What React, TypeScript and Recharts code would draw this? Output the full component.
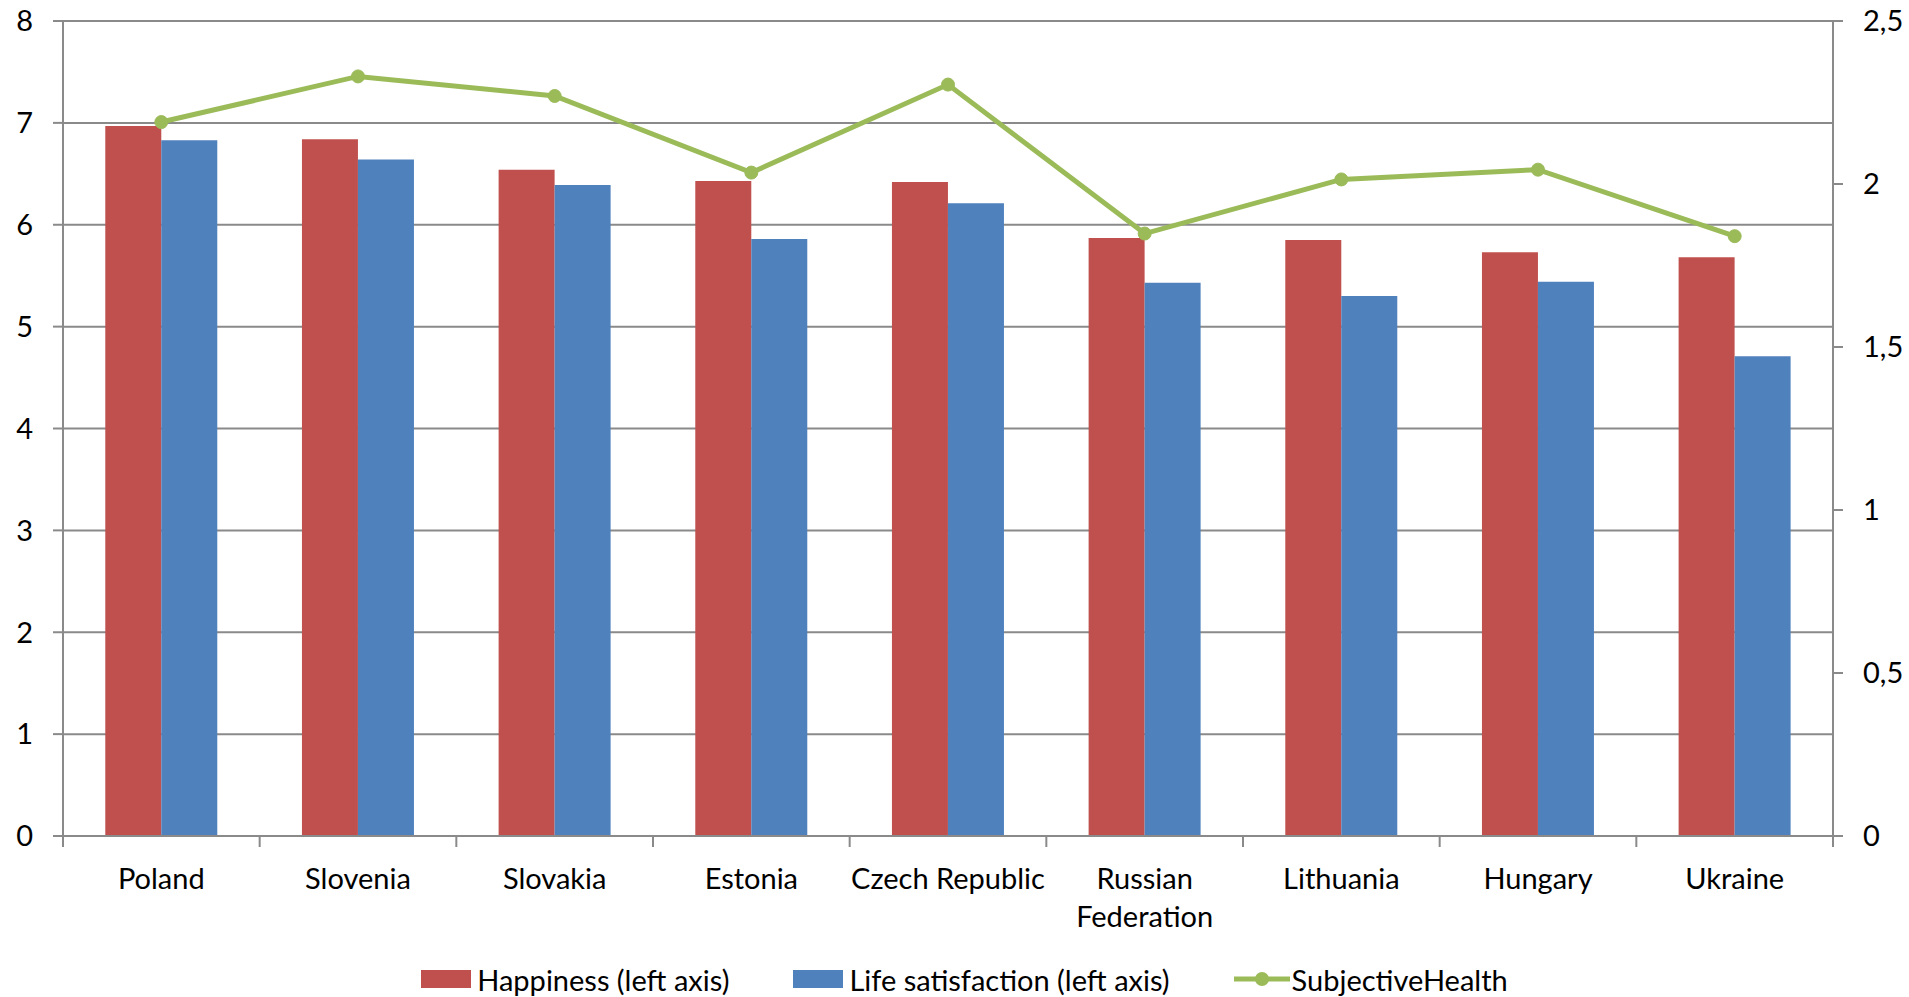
import React from 'react';
import { ComposedChart, Bar, Line, XAxis, YAxis, CartesianGrid, Legend } from 'recharts';

const countries = [
  'Poland', 'Slovenia', 'Slovakia', 'Estonia', 'Czech Republic',
  'Russian Federation', 'Lithuania', 'Hungary', 'Ukraine',
];
const happiness = [6.97, 6.84, 6.54, 6.43, 6.42, 5.87, 5.85, 5.73, 5.68];
const lifeSatisfaction = [6.83, 6.64, 6.39, 5.86, 6.21, 5.43, 5.3, 5.44, 4.71];
const subjectiveHealth = [2.19, 2.33, 2.27, 2.035, 2.305, 1.848, 2.014, 2.044, 1.84];

const leftTicks = [0, 1, 2, 3, 4, 5, 6, 7, 8];
const rightTicks = [0, 0.5, 1, 1.5, 2, 2.5];

const data = countries.map((name, i) => ({
  name,
  happiness: happiness[i],
  life: lifeSatisfaction[i],
  health: subjectiveHealth[i],
}));

const RED = '#C0504D';
const BLUE = '#4F81BD';
const GREEN = '#9BBB59';
const AXIS = '#8a8a8a';
const FONT = 29;

const W = 1909;
const H = 997;
const BAND = (1833 - 63) / countries.length;

// long names go onto two lines
const splitLabel = (s: string) => {
  if (s.length <= 15) return [s];
  const i = s.indexOf(' ');
  return i < 0 ? [s] : [s.slice(0, i), s.slice(i + 1)];
};

const CategoryTick = (props: any) => {
  const { x, y, payload, index, visibleTicksCount } = props;
  const half = payload && payload.offset ? payload.offset : BAND / 2;
  const lines = splitLabel(String(payload.value));
  const last = index === (visibleTicksCount ?? countries.length) - 1;
  return (
    <g>
      <line x1={x - half} x2={x - half} y1={y} y2={y + 11} stroke={AXIS} strokeWidth={2} />
      {last && <line x1={x + half} x2={x + half} y1={y} y2={y + 11} stroke={AXIS} strokeWidth={2} />}
      <text x={x} y={y + 43} textAnchor="middle" fontSize={FONT} fill="#000">
        {lines.map((l, i) => (
          <tspan key={i} x={x} dy={i === 0 ? '0.35em' : 38}>{l}</tspan>
        ))}
      </text>
    </g>
  );
};

const LegendContent = () => {
  const item = { display: 'flex', alignItems: 'center', gap: 6 } as React.CSSProperties;
  return (
    <div
      style={{
        height: 36,
        display: 'flex',
        alignItems: 'center',
        justifyContent: 'center',
        gap: 64,
        paddingLeft: 20,
        fontSize: FONT,
        color: '#000',
      }}
    >
      <div style={item}>
        <span style={{ width: 50, height: 18, background: RED, display: 'inline-block' }} />
        <span>Happiness (left axis)</span>
      </div>
      <div style={item}>
        <span style={{ width: 50, height: 18, background: BLUE, display: 'inline-block' }} />
        <span>Life satisfaction (left axis)</span>
      </div>
      <div style={{ ...item, gap: 2 }}>
        <svg width={56} height={20}>
          <line x1={0} x2={56} y1={10} y2={10} stroke={GREEN} strokeWidth={5} />
          <circle cx={28} cy={10} r={7} fill={GREEN} />
        </svg>
        <span>SubjectiveHealth</span>
      </div>
    </div>
  );
};

const fmt = (v: number) => String(v).replace('.', ',');

export default function App() {
  return (
    <div
      style={{
        position: 'absolute',
        left: 0,
        top: 0,
        width: W,
        height: H,
        background: '#fff',
        fontFamily: 'Lato, "Open Sans", sans-serif',
      }}
    >
      <ComposedChart
        width={W}
        height={H}
        data={data}
        margin={{ top: 21, right: 0, bottom: 0, left: 0 }}
        barCategoryGap="21.5%"
        barGap={0}
      >
        <CartesianGrid yAxisId="left" vertical={false} stroke={AXIS} strokeWidth={2} />
        <XAxis
          dataKey="name"
          height={125}
          axisLine={{ stroke: AXIS, strokeWidth: 2 }}
          tickLine={false}
          tickSize={0}
          tickMargin={0}
          interval={0}
          tick={<CategoryTick />}
        />
        <YAxis
          yAxisId="left"
          width={63}
          domain={[0, 8]}
          ticks={leftTicks}
          axisLine={{ stroke: AXIS, strokeWidth: 2 }}
          tickLine={{ stroke: AXIS, strokeWidth: 2 }}
          tickSize={10}
          tickMargin={20}
          tick={{ fontSize: FONT, fill: '#000' }}
        />
        <YAxis
          yAxisId="right"
          orientation="right"
          width={76}
          domain={[0, 2.5]}
          ticks={rightTicks}
          tickFormatter={fmt}
          axisLine={{ stroke: AXIS, strokeWidth: 2 }}
          tickLine={{ stroke: AXIS, strokeWidth: 2 }}
          tickSize={10}
          tickMargin={20}
          tick={{ fontSize: FONT, fill: '#000', textAnchor: 'start' }}
        />
        <Bar yAxisId="left" dataKey="happiness" name="Happiness (left axis)" fill={RED} isAnimationActive={false} />
        <Bar yAxisId="left" dataKey="life" name="Life satisfaction (left axis)" fill={BLUE} isAnimationActive={false} />
        <Line
          yAxisId="right"
          type="linear"
          dataKey="health"
          name="SubjectiveHealth"
          stroke={GREEN}
          strokeWidth={5}
          dot={{ r: 6.5, fill: GREEN, stroke: GREEN, strokeWidth: 1 }}
          activeDot={false}
          isAnimationActive={false}
        />
        <Legend verticalAlign="bottom" content={<LegendContent />} />
      </ComposedChart>
    </div>
  );
}
